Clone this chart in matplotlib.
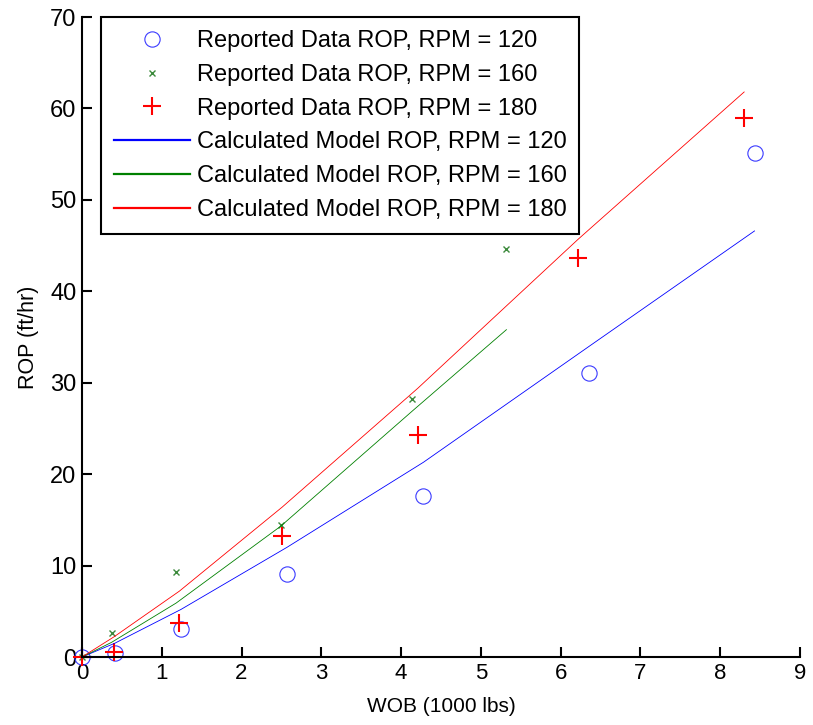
import numpy as np
import matplotlib
matplotlib.use("Agg")
import matplotlib.pyplot as plt

plt.rcParams['font.family'] = ['Liberation Sans', 'DejaVu Sans']

# reported data (WOB in 1000 lbs, ROP in ft/hr)
wob_120 = [0, 0.41, 1.24, 2.57, 4.28, 6.36, 8.43]
rop_120 = [0, 0.4, 3.1, 9.1, 17.6, 31.1, 55.1]
wob_160 = [0, 0.37, 1.18, 2.49, 4.14, 5.32]
rop_160 = [0, 2.6, 9.3, 14.4, 28.2, 44.6]
wob_180 = [0, 0.40, 1.22, 2.51, 4.21, 6.22, 8.30]
rop_180 = [0, 0.6, 3.75, 13.2, 24.3, 43.6, 59.0]

# calculated model ROP at same WOB values
model_120 = [0, 1.5, 5.2, 12.0, 21.3, 34.0, 46.6]
model_160 = [0, 1.6, 5.9, 14.3, 26.9, 35.8]
model_180 = [0, 2.2, 7.2, 16.4, 29.4, 45.7, 61.8]

rpm = [120, 160, 180]

fig = plt.figure(figsize=(8.13, 7.25), dpi=100)
ax = fig.add_axes([82/813, 68/725, 718/813, 640/725])

ax.plot(wob_120, rop_120, 'o', color='#3a3aff', ms=11, mfc='none', mew=0.8,
        clip_on=False, label='Reported Data ROP, RPM = %d' % rpm[0])
ax.plot(wob_160, rop_160, 'x', color='#3c8a3c', ms=5, mew=1.0,
        clip_on=False, label='Reported Data ROP, RPM = %d' % rpm[1])
ax.plot(wob_180, rop_180, '+', color='#ff0000', ms=13, mew=1.5,
        clip_on=False, label='Reported Data ROP, RPM = %d' % rpm[2])
ax.plot(wob_120, model_120, '-', color='#0000ff', lw=0.6,
        label='Calculated Model ROP, RPM = %d' % rpm[0])
ax.plot(wob_160, model_160, '-', color='#008000', lw=0.6,
        label='Calculated Model ROP, RPM = %d' % rpm[1])
ax.plot(wob_180, model_180, '-', color='#ff0000', lw=0.6,
        label='Calculated Model ROP, RPM = %d' % rpm[2])

ax.set_xlim(0, 9)
ax.set_ylim(0, 70)
ax.set_xticks(np.arange(0, 10, 1))
ax.set_yticks(np.arange(0, 80, 10))
ax.spines['top'].set_visible(False)
ax.spines['right'].set_visible(False)
for s in ['left', 'bottom']:
    ax.spines[s].set_linewidth(1.5)
ax.tick_params(direction='in', length=7, width=1.5, pad=4)
ax.tick_params(axis='x', labelsize=16)
ax.tick_params(axis='y', labelsize=17)
ax.set_xlabel('WOB (1000 lbs)', fontsize=15, labelpad=10)
ax.set_ylabel('ROP (ft/hr)', fontsize=15.5, labelpad=8)

leg = ax.legend(loc='upper left', bbox_to_anchor=(19/718, 1.0), borderaxespad=0,
                fontsize=17, fancybox=False, edgecolor='black', framealpha=1,
                handlelength=3.2, handletextpad=0.3, labelspacing=0.5,
                borderpad=0.55, numpoints=1)
leg.get_frame().set_linewidth(1.5)
for ln in leg.get_lines()[3:]:
    ln.set_linewidth(1.6)

fig.savefig('out.png', dpi=100)
